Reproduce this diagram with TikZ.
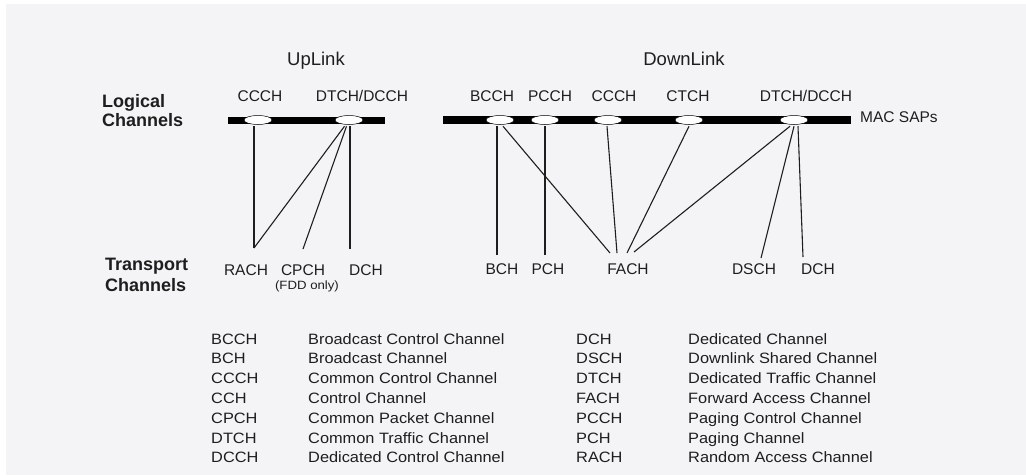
\documentclass[tikz,border=0pt]{standalone}
\usepackage{fontspec}
\setmainfont{Liberation Sans}
\newfontfamily\legfont[FakeStretch=1.09]{Liberation Sans}
\newfontfamily\fddfont[FakeStretch=1.1]{Liberation Sans}
\usetikzlibrary{shapes.geometric}
\definecolor{bg}{RGB}{244,243,246}
\definecolor{ink}{RGB}{30,30,30}
\begin{document}
\begin{tikzpicture}[x=1pt,y=-1pt,
  lab/.style={font=\fontsize{15.5}{18}\selectfont, text=ink, inner sep=0pt, anchor=base},
  head/.style={font=\bfseries\fontsize{18}{20}\selectfont, text=ink, inner sep=0pt, anchor=base west},
  title/.style={font=\fontsize{18.5}{20}\selectfont, text=ink, inner sep=0pt, anchor=base},
  leg/.style={font=\legfont\fontsize{15}{18}\selectfont, text=ink, inner sep=0pt, anchor=base west},
  sapbar/.style={rectangle, fill=black, inner sep=0pt, minimum height=7.5pt},
  sap/.style={ellipse, draw=black, line width=0.5pt, fill=white, minimum width=28pt, minimum height=9pt, inner sep=0pt},
  link/.style={draw=ink, line width=1.1pt}]
\useasboundingbox (0,0) rectangle (1026,475);
\fill[white] (0,0) rectangle (1026,475);
\fill[bg] (6,4) rectangle (1026,475);

% titles
\node[title] (uplink) at (316,65) {UpLink};
\node[title] (downlink) at (684,65) {DownLink};

% headings
\node[head] (log1) at (102,107) {Logical};
\node[head] (log2) at (102,126) {Channels};
\node[head] (tr1) at (105,270) {Transport};
\node[head] (tr2) at (105,291) {Channels};

% bars
\node[sapbar, minimum width=157pt] (ubar) at (306.5,120.5) {};
\node[sapbar, minimum width=408pt] (dbar) at (647,120) {};
\node[lab, anchor=base west] (macsap) at (860,122) {MAC SAPs};

% SAP ellipses
\node[sap] (uccch) at (258,120) {};
\node[sap] (udtch) at (349,120) {};
\node[sap] (dbcch) at (500,120) {};
\node[sap] (dpcch) at (545,120) {};
\node[sap] (dccch) at (608,120) {};
\node[sap] (dctch) at (689,120) {};
\node[sap] (ddtch) at (794,120) {};

% logical channel labels
\node[lab] (luccch) at (260,101) {CCCH};
\node[lab] (ludtch) at (362,101) {DTCH/DCCH};
\node[lab] (ldbcch) at (492,101) {BCCH};
\node[lab] (ldpcch) at (550,101) {PCCH};
\node[lab] (ldccch) at (614,101) {CCCH};
\node[lab] (ldctch) at (688,101) {CTCH};
\node[lab] (lddtch) at (806,101) {DTCH/DCCH};

% transport channel labels
\node[lab] (rach) at (246,275) {RACH};
\node[lab] (cpch) at (303,275) {CPCH};
\node[font=\fddfont\fontsize{12}{14}\selectfont, text=ink, inner sep=0pt, anchor=base] (fdd) at (307,289) {(FDD only)};
\node[lab] (udch) at (366,275) {DCH};
\node[lab] (bch) at (502,274.5) {BCH};
\node[lab] (pch) at (548,274.5) {PCH};
\node[lab] (fach) at (628,274.5) {FACH};
\node[lab] (dsch) at (754,274.5) {DSCH};
\node[lab] (ddch) at (818,274.5) {DCH};

% uplink connectors
\draw[link] ([shift={(-4,1.5)}]uccch.south) -- ([shift={(8,-27)}]rach.base);
\draw[link] ([shift={(-4.5,1.5)}]udtch.south) -- ([shift={(8,-27)}]rach.base);
\draw[link] ([shift={(-2.5,1.5)}]udtch.south) -- ([shift={(0,-26)}]cpch.base);
\draw[link] ([shift={(1,1.5)}]udtch.south) -- ([shift={(-16,-26)}]udch.base);

% downlink connectors
\draw[link] ([shift={(-3,1.5)}]dbcch.south) -- ([shift={(-5,-19.5)}]bch.base);
\draw[link] ([shift={(3,1.5)}]dbcch.south) -- ([shift={(-18,-21.5)}]fach.base);
\draw[link] ([shift={(0,1.5)}]dpcch.south) -- ([shift={(-3,-19.5)}]pch.base);
\draw[link] ([shift={(-1,1.5)}]dccch.south) -- ([shift={(-11,-21.5)}]fach.base);
\draw[link] ([shift={(0,1.5)}]dctch.south) -- ([shift={(-1,-21.5)}]fach.base);
\draw[link] ([shift={(-4,1.5)}]ddtch.south) -- ([shift={(6,-22.5)}]fach.base);
\draw[link] ([shift={(0,1.5)}]ddtch.south) -- ([shift={(7,-16.5)}]dsch.base);
\draw[link] ([shift={(4,1.5)}]ddtch.south) -- ([shift={(-15,-17.5)}]ddch.base);

% legend
\foreach \i/\ab/\de/\abr/\der in {
  0/BCCH/Broadcast Control Channel/DCH/Dedicated Channel,
  1/BCH/Broadcast Channel/DSCH/Downlink Shared Channel,
  2/CCCH/Common Control Channel/DTCH/Dedicated Traffic Channel,
  3/CCH/Control Channel/FACH/Forward Access Channel,
  4/CPCH/Common Packet Channel/PCCH/Paging Control Channel,
  5/DTCH/Common Traffic Channel/PCH/Paging Channel,
  6/DCCH/Dedicated Control Channel/RACH/Random Access Channel}{
  \node[leg] (la\i) at (211,344+19.8*\i) {\ab};
  \node[leg] (ld\i) at (308,344+19.8*\i) {\de};
  \node[leg] (ra\i) at (576,344+19.8*\i) {\abr};
  \node[leg] (rd\i) at (688,344+19.8*\i) {\der};
}
\end{tikzpicture}
\end{document}
